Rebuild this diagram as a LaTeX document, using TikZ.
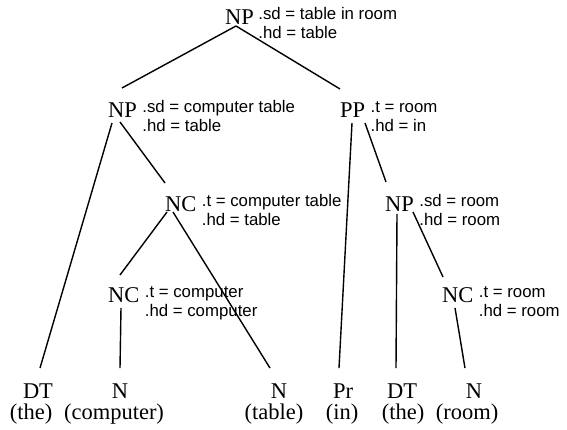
\documentclass[tikz,border=0pt]{standalone}
\usepackage{fontspec}
\setmainfont{Liberation Serif}
\newfontfamily\featfont{Liberation Sans}
\tikzset{
  cat/.style={anchor=base west, inner sep=0pt, font=\fontsize{22.5}{24}\selectfont},
  feat/.style={anchor=base west, inner sep=0pt, align=left, font=\featfont\fontsize{16.8}{19}\selectfont},
  leaf/.style={anchor=base, inner xsep=0pt, inner ysep=16pt, font=\fontsize{22.5}{24}\selectfont},
  word/.style={anchor=base, inner sep=0pt, font=\fontsize{22.5}{24}\selectfont},
  branch/.style={line width=1.4pt}
}
\begin{document}
\begin{tikzpicture}[x=1pt, y=1pt]
\useasboundingbox (0,0) rectangle (567,430);

% Category labels of the inner nodes
\node[cat] (np0) at (225,405) {NP};
\node[cat] (np1) at (108,312) {NP};
\node[cat] (pp) at (340,312) {PP};
\node[cat] (nc1) at (165,218) {NC};
\node[cat] (np2) at (385,218) {NP};
\node[cat] (nc2) at (108,127) {NC};
\node[cat] (nc3) at (442,127) {NC};

% Features next to each label (base is the second line)
\node[feat] (f-np0) at ([shift={(4,-14)}]np0.base east) {.sd = table in room\\.hd = table};
\node[feat] (f-np1) at ([shift={(5,-14)}]np1.base east) {.sd = computer table\\.hd = table};
\node[feat] (f-pp) at ([shift={(5,-14)}]pp.base east) {.t = room\\.hd = in};
\node[feat] (f-nc1) at ([shift={(5,-14)}]nc1.base east) {.t = computer table\\.hd = table};
\node[feat] (f-np2) at ([shift={(5,-14)}]np2.base east) {.sd = room\\.hd = room};
\node[feat] (f-nc2) at ([shift={(5,-14)}]nc2.base east) {.t = computer\\.hd = computer};
\node[feat] (f-nc3) at ([shift={(5,-14)}]nc3.base east) {.t = room\\.hd = room};

% Leaves and their words
\node[leaf] (dt1) at (38,31) {DT};
\node[leaf] (n1) at (120,31) {N};
\node[leaf] (n2) at (279,31) {N};
\node[leaf] (pr) at (343,31) {Pr};
\node[leaf] (dt2) at (402,31) {DT};
\node[leaf] (n3) at (474,31) {N};
\node[word] (w-dt1) at (31,10) {(the)};
\node[word] (w-n1) at (114,10) {(computer)};
\node[word] (w-n2) at (274,10) {(table)};
\node[word] (w-pr) at (342,10) {(in)};
\node[word] (w-dt2) at (403,10) {(the)};
\node[word] (w-n3) at (467,10) {(room)};

% Branches
\draw[branch] ([shift={(11,-1)}]np0.base west) -- ([shift={(14,30)}]np1.base west);
\draw[branch] ([shift={(11,-1)}]np0.base west) -- ([shift={(0,29)}]pp.base west);
\draw[branch] ([shift={(4,-5)}]np1.base west) -- ([xshift=2]dt1.north);
\draw[branch] ([shift={(12,-4)}]np1.base west) -- ([shift={(0,29)}]nc1.base west);
\draw[branch] ([shift={(2,0)}]nc1.base west) -- ([shift={(12,28)}]nc2.base west);
\draw[branch] ([shift={(8,0)}]nc1.base west) -- ([xshift=-9]n2.north);
\draw[branch] ([shift={(13,-5)}]nc2.base west) -- (n1.north);
\draw[branch] ([shift={(12,-5)}]pp.base west) -- ([xshift=-4]pr.north);
\draw[branch] ([shift={(25,-5)}]pp.base west) -- ([shift={(1,30)}]np2.base west);
\draw[branch] ([shift={(12,-2)}]np2.base west) -- ([xshift=-6]dt2.north);
\draw[branch] ([shift={(28,0)}]np2.base west) -- ([shift={(1,26)}]nc3.base west);
\draw[branch] ([shift={(13,-5)}]nc3.base west) -- ([xshift=-9]n3.north);
\end{tikzpicture}
\end{document}
